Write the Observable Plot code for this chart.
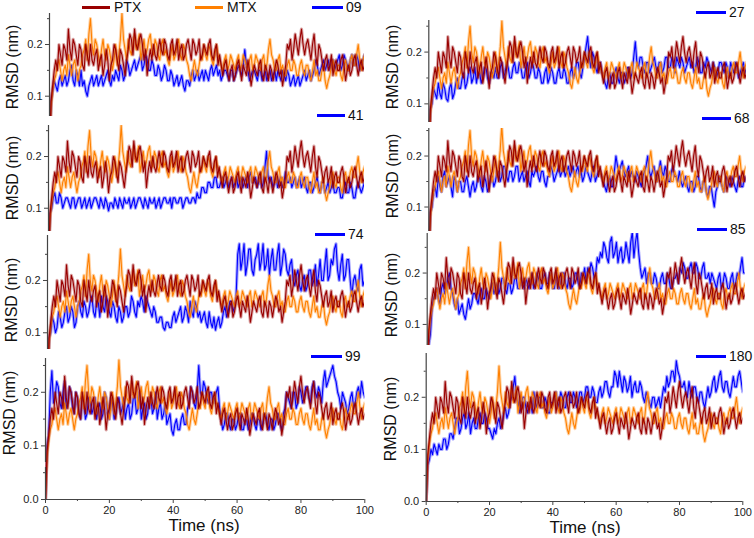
<!DOCTYPE html>
<html><head><meta charset="utf-8">
<script src="https://cdn.jsdelivr.net/npm/d3@7"></script>
<script src="https://cdn.jsdelivr.net/npm/@observablehq/plot@0.6"></script>
<style>
body{margin:0;background:#fff;}
#wrap{position:relative;width:754px;height:538px;overflow:hidden;font-family:"Liberation Sans",Arial,sans-serif;}
#wrap svg{position:absolute;left:0;top:0;}
.lab{position:absolute;white-space:nowrap;color:#111;line-height:1;}
.leg{position:absolute;height:3px;}
</style></head><body><div id="wrap"></div>
<script>
// ---- Data (RMSD in nm, one value every 0.5 ns, t = 0..100 ns) ----
const PTX = [0,.09,.12,.15,.17,.15,.2,.18,.16,.2,.19,.17,.23,.19,.17,.21,.2,.18,.16,.2,
.19,.16,.15,.2,.18,.16,.2,.17,.16,.18,.19,.15,.17,.18,.14,.16,.19,.17,.13,.16,
.17,.2,.19,.17,.15,.19,.18,.16,.14,.17,.19,.22,.21,.18,.23,.2,.19,.21,.22,.2,
.17,.19,.14,.17,.19,.17,.2,.18,.17,.19,.21,.19,.18,.21,.2,.18,.17,.2,.21,.18,
.19,.21,.17,.19,.2,.17,.18,.2,.21,.19,.17,.21,.2,.18,.19,.21,.17,.18,.2,.19,
.18,.2,.21,.18,.17,.19,.2,.16,.18,.16,.14,.16,.17,.15,.13,.15,.16,.13,.14,.16,
.17,.15,.13,.16,.15,.14,.17,.15,.12,.14,.16,.15,.14,.16,.17,.14,.13,.16,.15,.13,
.16,.15,.13,.15,.17,.16,.14,.15,.12,.14,.16,.2,.19,.21,.17,.19,.22,.2,.18,.21,
.23,.2,.18,.2,.21,.19,.17,.2,.22,.18,.16,.2,.19,.17,.15,.17,.18,.15,.16,.18,
.14,.16,.17,.15,.15,.17,.18,.16,.13,.15,.16,.14,.15,.17,.18,.16,.14,.16,.17,.15,.16];
const MTX = [0,.08,.11,.13,.14,.16,.17,.15,.13,.15,.16,.14,.18,.16,.14,.16,.17,.15,.13,.15,
.16,.18,.19,.21,.17,.22,.25,.2,.18,.21,.2,.18,.16,.19,.21,.18,.17,.2,.19,.17,
.15,.17,.2,.16,.18,.21,.26,.21,.19,.17,.21,.19,.18,.2,.22,.19,.2,.22,.17,.19,
.21,.18,.19,.21,.22,.19,.18,.21,.2,.18,.17,.2,.21,.18,.19,.17,.16,.18,.2,.17,
.18,.2,.21,.18,.17,.2,.19,.17,.16,.14,.13,.15,.17,.15,.14,.16,.18,.17,.2,.18,
.17,.2,.19,.17,.16,.18,.2,.18,.17,.16,.15,.17,.18,.15,.16,.18,.17,.16,.15,.17,
.18,.15,.16,.18,.17,.16,.15,.17,.18,.15,.16,.18,.17,.16,.15,.17,.18,.15,.16,.19,
.21,.18,.17,.15,.15,.17,.18,.15,.16,.14,.14,.16,.17,.15,.15,.17,.16,.14,.14,.16,
.17,.15,.14,.16,.16,.14,.13,.15,.17,.14,.15,.13,.13,.15,.16,.13,.115,.13,.14,.16,
.17,.15,.14,.16,.16,.14,.13,.16,.17,.15,.15,.17,.18,.16,.16,.18,.2,.17,.15,.17,.18];
const L09 = [0,.09,.11,.13,.12,.11,.13,.14,.12,.13,.14,.12,.13,.15,.16,.13,.12,.15,.14,.12,
.15,.12,.13,.11,.1,.12,.13,.14,.12,.13,.14,.12,.13,.14,.12,.13,.14,.15,.13,.12,
.14,.13,.15,.14,.13,.16,.15,.13,.14,.17,.16,.14,.15,.16,.17,.15,.16,.17,.18,.15,
.16,.18,.17,.15,.15,.17,.16,.14,.14,.16,.15,.13,.14,.16,.15,.13,.13,.15,.14,.12,
.13,.14,.12,.13,.14,.12,.11,.13,.13,.12,.14,.15,.13,.14,.15,.13,.14,.15,.13,.15,
.14,.13,.15,.16,.14,.15,.16,.14,.15,.13,.14,.15,.15,.14,.13,.15,.15,.13,.14,.15,
.16,.15,.14,.16,.19,.16,.15,.13,.14,.15,.15,.14,.13,.15,.15,.13,.14,.15,.13,.14,
.15,.13,.14,.15,.13,.15,.14,.13,.15,.14,.13,.15,.14,.12,.13,.14,.12,.13,.14,.12,
.13,.14,.15,.13,.14,.15,.13,.14,.15,.17,.16,.14,.15,.16,.17,.15,.16,.17,.15,.17,
.17,.15,.16,.17,.18,.15,.16,.18,.17,.16,.15,.17,.18,.16,.16,.18,.17,.15,.16,.17,.18];
const L41 = [0,.09,.1,.12,.13,.11,.11,.13,.12,.1,.11,.12,.12,.11,.1,.12,.12,.1,.11,.12,
.12,.1,.11,.12,.1,.11,.12,.1,.11,.12,.12,.11,.1,.12,.11,.1,.12,.11,.095,.11,
.11,.1,.12,.11,.1,.12,.11,.1,.12,.11,.11,.12,.1,.11,.12,.1,.11,.12,.12,.11,
.1,.12,.11,.1,.12,.11,.11,.12,.1,.11,.12,.1,.11,.12,.12,.11,.11,.12,.1,.12,
.12,.11,.11,.12,.12,.1,.11,.12,.12,.11,.11,.12,.12,.11,.13,.12,.12,.14,.14,.13,
.13,.15,.15,.14,.14,.16,.16,.14,.14,.15,.16,.14,.15,.16,.14,.15,.16,.14,.15,.16,
.14,.15,.16,.14,.15,.16,.14,.16,.17,.15,.15,.16,.14,.15,.16,.14,.15,.18,.21,.16,
.15,.16,.14,.15,.16,.14,.15,.16,.14,.15,.17,.15,.15,.16,.14,.15,.16,.14,.15,.16,
.14,.15,.16,.14,.13,.15,.15,.13,.14,.15,.16,.14,.13,.15,.15,.13,.14,.15,.13,.14,
.15,.13,.13,.14,.14,.12,.12,.14,.15,.13,.13,.15,.14,.12,.12,.14,.15,.14,.13,.14,.15];
const L74 = [0,.09,.1,.13,.12,.1,.11,.14,.13,.11,.12,.14,.15,.12,.13,.15,.14,.11,.12,.15,
.16,.14,.13,.16,.15,.13,.14,.16,.17,.14,.13,.16,.16,.13,.17,.15,.14,.17,.16,.14,
.13,.16,.15,.13,.12,.15,.14,.12,.13,.15,.15,.13,.14,.17,.16,.14,.13,.16,.15,.17,
.16,.14,.17,.16,.15,.14,.13,.15,.14,.12,.12,.13,.13,.11,.105,.12,.12,.11,.11,.13,
.14,.12,.13,.14,.15,.12,.13,.15,.14,.12,.16,.14,.13,.16,.15,.13,.14,.12,.13,.14,
.12,.11,.14,.12,.11,.13,.105,.12,.13,.11,.12,.14,.15,.13,.14,.16,.16,.14,.15,.17,
.25,.27,.22,.24,.27,.21,.23,.26,.26,.22,.21,.24,.25,.27,.22,.24,.27,.22,.23,.26,
.21,.24,.26,.22,.22,.25,.27,.21,.23,.26,.25,.22,.21,.23,.24,.2,.19,.21,.22,.19,
.18,.2,.21,.18,.19,.22,.22,.19,.2,.23,.19,.21,.24,.2,.2,.23,.26,.2,.21,.24,
.23,.26,.27,.22,.2,.23,.25,.2,.21,.24,.24,.2,.17,.2,.21,.19,.18,.22,.23,.19,.2];
const L99 = [0,.1,.12,.2,.24,.18,.19,.22,.21,.18,.17,.2,.22,.17,.18,.21,.2,.17,.16,.2,
.19,.16,.15,.19,.18,.15,.16,.19,.19,.16,.17,.19,.15,.17,.18,.15,.16,.2,.19,.16,
.15,.19,.18,.15,.16,.18,.19,.16,.17,.19,.15,.17,.18,.15,.16,.19,.19,.16,.17,.2,
.15,.17,.18,.15,.16,.19,.19,.16,.17,.2,.15,.17,.18,.15,.16,.18,.14,.15,.16,.13,
.12,.14,.15,.13,.13,.15,.16,.14,.14,.17,.18,.21,.2,.18,.17,.2,.25,.2,.19,.22,
.21,.19,.18,.2,.2,.18,.19,.2,.21,.17,.15,.13,.14,.16,.16,.14,.13,.15,.15,.13,
.14,.16,.16,.13,.13,.15,.15,.13,.14,.16,.16,.14,.13,.15,.15,.13,.14,.16,.16,.14,
.13,.15,.15,.13,.14,.16,.16,.14,.13,.16,.17,.2,.19,.18,.17,.2,.2,.17,.18,.21,
.2,.18,.19,.21,.21,.19,.18,.21,.22,.2,.19,.21,.2,.18,.22,.24,.21,.22,.23,.24,
.25,.23,.22,.2,.19,.17,.2,.19,.18,.16,.17,.19,.2,.17,.18,.2,.21,.19,.22,.2,.19];
const L27 = [0,.09,.1,.13,.12,.11,.14,.12,.11,.14,.13,.11,.105,.13,.14,.11,.12,.14,.15,.13,
.13,.15,.16,.13,.14,.16,.17,.14,.15,.17,.14,.16,.16,.14,.15,.17,.17,.15,.14,.16,
.16,.15,.17,.15,.15,.17,.18,.15,.16,.18,.17,.15,.15,.17,.18,.16,.16,.18,.17,.15,
.15,.17,.18,.15,.16,.18,.17,.15,.15,.17,.16,.14,.14,.16,.17,.14,.15,.17,.16,.14,
.14,.16,.17,.15,.15,.17,.16,.14,.14,.16,.17,.15,.16,.18,.18,.16,.15,.17,.19,.21,
.23,.19,.17,.2,.19,.17,.16,.18,.18,.16,.15,.14,.13,.15,.16,.14,.14,.16,.17,.15,
.14,.16,.16,.14,.15,.17,.17,.15,.16,.19,.22,.18,.17,.19,.19,.17,.16,.18,.18,.16,
.17,.18,.19,.17,.16,.18,.18,.16,.17,.19,.19,.17,.17,.19,.18,.16,.19,.18,.17,.19,
.18,.16,.17,.18,.19,.17,.18,.16,.17,.19,.18,.16,.16,.18,.17,.19,.18,.17,.16,.18,
.17,.15,.16,.18,.18,.17,.16,.18,.17,.15,.18,.17,.16,.18,.17,.15,.16,.17,.18,.16,.17];
const L68 = [0,.09,.1,.13,.14,.12,.16,.14,.13,.16,.17,.14,.15,.16,.14,.12,.16,.15,.13,.15,
.15,.13,.13,.15,.16,.14,.12,.14,.15,.13,.14,.16,.16,.14,.13,.16,.15,.13,.14,.16,
.16,.14,.15,.17,.17,.15,.16,.18,.18,.16,.15,.17,.17,.15,.16,.18,.18,.15,.16,.17,
.15,.16,.17,.15,.14,.17,.16,.17,.18,.16,.15,.17,.17,.15,.14,.16,.16,.18,.17,.15,
.16,.17,.18,.16,.17,.18,.16,.17,.18,.16,.17,.18,.16,.17,.18,.16,.17,.15,.16,.18,
.17,.16,.15,.17,.18,.15,.16,.17,.17,.16,.15,.14,.13,.15,.16,.14,.14,.17,.2,.18,
.17,.18,.19,.17,.16,.17,.18,.16,.17,.16,.15,.17,.16,.15,.14,.16,.17,.18,.2,.17,
.16,.17,.18,.16,.15,.17,.19,.17,.16,.18,.17,.15,.15,.17,.18,.16,.16,.15,.17,.15,
.14,.15,.16,.14,.13,.15,.15,.13,.14,.16,.16,.14,.13,.15,.15,.13,.12,.14,.14,.12,
.1,.13,.14,.16,.15,.14,.13,.15,.16,.15,.14,.16,.15,.14,.13,.15,.16,.14,.14,.16,.15];
const L85 = [0,.06,.08,.13,.15,.16,.17,.15,.14,.17,.18,.16,.17,.19,.2,.17,.16,.14,.13,.15,
.12,.13,.14,.12,.11,.13,.15,.13,.14,.16,.16,.15,.14,.16,.17,.15,.15,.17,.16,.15,
.17,.18,.16,.17,.18,.16,.17,.19,.19,.17,.16,.18,.18,.16,.17,.19,.19,.17,.17,.19,
.18,.17,.19,.18,.17,.19,.2,.17,.18,.2,.19,.17,.17,.19,.2,.18,.18,.2,.19,.17,
.17,.2,.19,.17,.18,.2,.2,.18,.17,.19,.19,.17,.18,.2,.2,.18,.17,.2,.19,.21,
.18,.21,.2,.22,.21,.19,.2,.23,.22,.24,.23,.26,.25,.23,.22,.26,.27,.23,.24,.26,
.22,.24,.25,.22,.23,.26,.24,.22,.26,.28,.23,.26,.28,.24,.21,.19,.2,.21,.18,.2,
.2,.18,.18,.2,.19,.17,.17,.19,.2,.18,.18,.2,.19,.17,.17,.19,.19,.2,.18,.21,
.2,.22,.21,.19,.19,.21,.22,.2,.2,.22,.21,.19,.19,.21,.22,.19,.19,.2,.18,.2,
.19,.18,.17,.19,.2,.17,.18,.2,.19,.17,.17,.19,.2,.17,.18,.2,.19,.21,.23,.2,.2];
const L180 = [0,.07,.08,.1,.09,.11,.1,.09,.11,.1,.1,.12,.12,.1,.11,.13,.13,.12,.14,.16,
.16,.13,.14,.16,.17,.14,.15,.17,.13,.15,.16,.14,.14,.16,.17,.15,.15,.17,.16,.14,
.14,.13,.12,.14,.13,.15,.16,.14,.15,.17,.18,.16,.17,.19,.2,.22,.24,.2,.19,.17,
.18,.2,.2,.18,.17,.19,.19,.17,.21,.19,.18,.2,.2,.18,.18,.2,.19,.17,.17,.19,
.19,.2,.21,.18,.19,.21,.2,.18,.18,.2,.21,.19,.19,.21,.2,.18,.19,.21,.21,.19,
.2,.22,.22,.2,.2,.22,.21,.19,.19,.21,.22,.2,.21,.23,.23,.21,.2,.22,.22,.25,
.24,.22,.25,.23,.21,.24,.23,.21,.22,.24,.2,.22,.23,.21,.21,.23,.22,.2,.19,.21,
.2,.19,.18,.2,.2,.18,.19,.2,.18,.2,.22,.21,.24,.22,.23,.25,.25,.23,.27,.25,
.24,.22,.22,.23,.21,.2,.23,.21,.2,.22,.22,.2,.19,.21,.21,.19,.18,.2,.22,.2,
.21,.23,.24,.21,.22,.24,.25,.22,.21,.23,.23,.21,.2,.22,.24,.22,.22,.24,.25,.23,.21];
const xTicks = [0, 20, 40, 60, 80, 100];
const xMinor = [10, 30, 50, 70, 90];

// ---- Styles / layout ----
const BROWN = "#990000", ORANGE = "#ff8000", BLUE = "#0000ff";
const AX = "#444", TXT = "#222";
const panels = [
  {name:"09",  vals:L09,  x0:49,    x1:364,   top:13,  bot:116, lo:0.0607, hi:0.26,  rx:13,  ry:67,  leg:[312,343,7]},
  {name:"41",  vals:L41,  x0:48,    x1:364,   top:125, bot:231, lo:0.055,  hi:0.26,  rx:13,  ry:178, leg:[317,345,115]},
  {name:"74",  vals:L74,  x0:47,    x1:364,   top:235, bot:349, lo:0.068,  hi:0.286, rx:12,  ry:300, leg:[315,345,234]},
  {name:"99",  vals:L99,  x0:45,    x1:364.3, top:358, bot:499, lo:0,      hi:0.263, rx:10,  ry:413, leg:[311,342,356], bottom:true, gap:[0.0596,0.069]},
  {name:"27",  vals:L27,  x0:428.3, x1:746,   top:20,  bot:122, lo:0.064,  hi:0.261, rx:393, ry:67,  leg:[696,726,12]},
  {name:"68",  vals:L68,  x0:428.3, x1:745.5, top:128, bot:231, lo:0.052,  hi:0.254, rx:393, ry:176, leg:[702,731,118]},
  {name:"85",  vals:L85,  x0:426.7, x1:744.7, top:233, bot:345, lo:0.059,  hi:0.277, rx:392, ry:295, leg:[697,727,229]},
  {name:"180", vals:L180, x0:425.7, x1:742.3, top:353, bot:501, lo:0,      hi:0.284, rx:391, ry:419, leg:[696,726,356], bottom:true}
];

const wrap = document.getElementById("wrap");
const W = 754, H = 538;
const series = vals => vals.map((v, i) => ({t: i * 100 / (vals.length - 1), v}));
const fmt = d3.format(".1f");

function addLabel(text, x, y, size, rotate, anchor) {
  const d = document.createElement("div");
  d.className = "lab";
  d.textContent = text;
  d.style.fontSize = size + "px";
  d.style.left = x + "px";
  d.style.top = y + "px";
  d.style.transform = (anchor === "left" ? "translate(0,-50%)" : "translate(-50%,-50%)") + (rotate ? " rotate(-90deg)" : "");
  wrap.appendChild(d);
}
function addLegLine(x1, x2, y, color) {
  const d = document.createElement("div");
  d.className = "leg";
  d.style.left = x1 + "px";
  d.style.top = (y - 1.5) + "px";
  d.style.width = (x2 - x1) + "px";
  d.style.background = color;
  wrap.appendChild(d);
}
// a noisy trace: soft wide stroke underneath a thin solid core
function trace(vals, color) {
  const d = series(vals);
  return [
    Plot.line(d, {x: "t", y: "v", stroke: color, strokeWidth: 3.2, strokeOpacity: 0.35, clip: true}),
    Plot.line(d, {x: "t", y: "v", stroke: color, strokeWidth: 1.1, clip: true})
  ];
}

for (const p of panels) {
  const majors = p.bottom ? [0, 0.1, 0.2] : [0.1, 0.2];
  const minors = [0.05, 0.15, 0.25].filter(v => v >= p.lo && v <= p.hi);
  const axisSegs = p.gap ? [[p.lo, p.gap[0]], [p.gap[1], p.hi]] : [[p.lo, p.hi]];
  const marks = [
    ...trace(p.vals, BLUE),
    ...trace(MTX, ORANGE),
    ...trace(PTX, BROWN),
    ...axisSegs.map(s => Plot.ruleX([0], {y1: s[0], y2: s[1], stroke: AX, strokeWidth: 1.2})),
    Plot.axisY({ticks: majors, tickFormat: fmt, tickSize: 4, tickPadding: 3, fontSize: 11, label: null, stroke: AX, fill: TXT}),
    Plot.axisY({ticks: minors, tickFormat: () => "", tickSize: 2, label: null, stroke: AX})
  ];
  if (p.bottom) {
    marks.push(
      Plot.ruleY([0], {stroke: AX, strokeWidth: 1.2}),
      Plot.axisX({ticks: xTicks, tickSize: 4, tickPadding: 3, fontSize: 11, label: null, stroke: AX, fill: TXT}),
      Plot.axisX({ticks: xMinor, tickFormat: () => "", tickSize: 2, label: null, stroke: AX})
    );
  }
  const svg = Plot.plot({
    width: W, height: H,
    marginLeft: p.x0, marginRight: W - p.x1, marginTop: p.top, marginBottom: H - p.bot,
    x: p.bottom ? {domain: [0, 100], range: [p.x0, p.x1]} : {domain: [0, 100], range: [p.x0, p.x1], axis: null},
    y: {domain: [p.lo, p.hi], range: [p.bot, p.top]},
    style: {background: "transparent", fontFamily: "'Liberation Sans', Arial, sans-serif", overflow: "visible"},
    marks
  });
  wrap.appendChild(svg);

  addLabel("RMSD (nm)", p.rx, p.ry, 16, true);
  addLegLine(p.leg[0], p.leg[1], p.leg[2], BLUE);
  addLabel(p.name, p.leg[1] + 3, p.leg[2], 14, false, "left");
}

// series legend for the reference drugs (top-left panel)
addLegLine(82, 110, 7, BROWN);
addLabel("PTX", 114, 7, 14, false, "left");
addLegLine(195, 223, 7, ORANGE);
addLabel("MTX", 227, 7, 14, false, "left");

addLabel("Time (ns)", 204, 525, 17, false);
addLabel("Time (ns)", 585, 527, 17, false);
</script></body></html>
